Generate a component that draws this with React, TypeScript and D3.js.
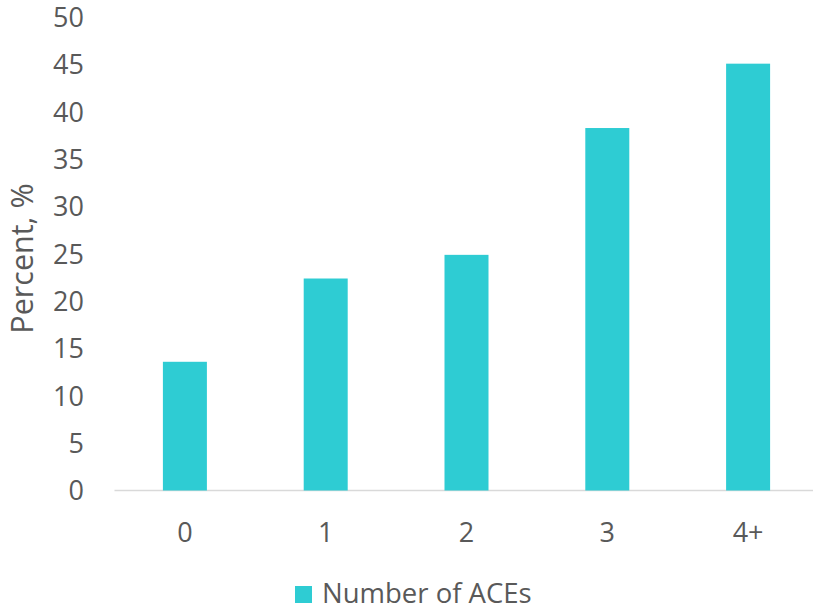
import React from "react";
import * as d3 from "d3";

const categories = ["0", "1", "2", "3", "4+"];
const values = [13.6, 22.4, 24.9, 38.3, 45.1];
const yTicks = [0, 5, 10, 15, 20, 25, 30, 35, 40, 45, 50];
const seriesName = "Number of ACEs";
const yTitle = "Percent, %";

const W = 813;
const H = 607;
const FONT = "'Open Sans', sans-serif";
const TEXT = "#595959";
const BAR = "#2ECCD3";

export default function App() {
  const x = d3.scaleBand<string>().domain(categories).range([114.5, 818.5]).paddingInner(0.6875).paddingOuter(0.34375);
  const y = d3.scaleLinear().domain([0, 50]).range([490.5, 17.3]);
  const bw = 44;
  return (
    <div style={{ position: "absolute", left: 0, top: 0 }}>
      <svg width={W} height={H} style={{ display: "block", background: "#fff" }}>
        <line x1={114.5} x2={813} y1={y(0)} y2={y(0)} stroke="#d9d9d9" strokeWidth={1.5} />
        {yTicks.map((t) => (
          <text key={t} x={84} y={y(t)} dy="0.36em" textAnchor="end" fontFamily={FONT} fontSize={27} fill={TEXT}>
            {t}
          </text>
        ))}
        {categories.map((c, i) => {
          const cx = (x(c) as number) + x.bandwidth() / 2;
          return (
            <g key={c}>
              <rect x={cx - bw / 2} y={y(values[i])} width={bw} height={y(0) - y(values[i])} fill={BAR} />
              <text x={cx} y={541.7} textAnchor="middle" fontFamily={FONT} fontSize={27} fill={TEXT}>
                {c}
              </text>
            </g>
          );
        })}
        <text
          transform={`translate(33,258.5) rotate(-90)`}
          textAnchor="middle"
          fontFamily={FONT}
          fontSize={30.5}
          fill={TEXT}
        >
          {yTitle}
        </text>
        <rect x={295} y={586} width={17} height={17} fill={BAR} />
        <text x={322} y={603} fontFamily={FONT} fontSize={27.5} fill={TEXT}>
          {seriesName}
        </text>
      </svg>
    </div>
  );
}
